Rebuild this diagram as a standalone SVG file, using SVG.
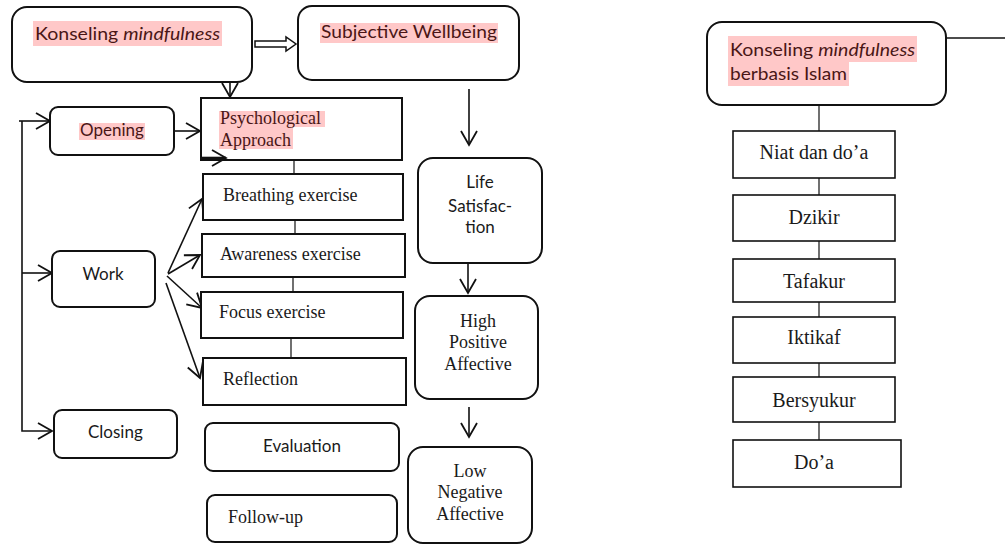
<svg xmlns="http://www.w3.org/2000/svg" width="1005" height="545" viewBox="0 0 1005 545">
<style>
.rb{fill:#fff;stroke:#111;stroke-width:2}
.sb{fill:#fff;stroke:#111;stroke-width:2}
.tb{fill:#fff;stroke:#111;stroke-width:1.6}
.hl{fill:#ffc8c8}
.sans{font-family:Lato,"Open Sans","Liberation Sans",sans-serif;font-size:17px;fill:#1a1a1a}
.ser{font-family:"Liberation Serif","Times New Roman",serif;font-size:18px;fill:#1a1a1a}
.ser2{font-family:"Liberation Serif","Times New Roman",serif;font-size:20px;fill:#1a1a1a}
.red{fill:#4a1616}
.c{stroke:#111;stroke-width:1.6;fill:none}
.t{stroke:#111;stroke-width:1.2;fill:none}
</style>
<defs>
<marker id="ah" markerWidth="17" markerHeight="19" refX="15" refY="9.5" orient="auto" markerUnits="userSpaceOnUse">
<path d="M1,1.5 L15,9.5 L1,17.5" fill="none" stroke="#111" stroke-width="1.8"/>
</marker>
</defs>
<rect width="1005" height="545" fill="#fff"/>

<g id="connectors">
<path class="c" d="M230,82 V97" marker-end="url(#ah)"/>
<polygon points="255,41 286,41 286,37 296,44 286,51 286,47 255,47" fill="#fff" stroke="#111" stroke-width="1.5"/>
<path class="c" d="M174,131 H200" marker-end="url(#ah)"/>
<path class="c" d="M19,121 H50" marker-end="url(#ah)"/>
<path class="c" d="M22,121 V431 H52" marker-end="url(#ah)"/>
<path class="c" d="M22,273 H52" marker-end="url(#ah)"/>
<path class="c" d="M168,273 L202,199" marker-end="url(#ah)"/>
<path class="c" d="M168,274 L200,255" marker-end="url(#ah)"/>
<path class="c" d="M167,276 L202,308" marker-end="url(#ah)"/>
<path class="c" d="M166,283 L200,378" marker-end="url(#ah)"/>
<path class="t" d="M294,160 V174"/>
<path class="t" d="M295,220 V234"/>
<path class="t" d="M293,277 V292"/>
<path class="t" d="M291,338 V358"/>
<path class="c" d="M469,89 V145" marker-end="url(#ah)"/>
<path class="c" d="M468,263 V293" marker-end="url(#ah)"/>
<path class="c" d="M469,407 V437" marker-end="url(#ah)"/>
<path class="c" d="M946,38 H1005"/>
<path class="t" d="M819,105 V440"/>
</g>

<g id="konseling">
<rect class="rb" x="12" y="7" width="240" height="75" rx="15"/>
<rect class="hl" x="33" y="21" width="189" height="25"/>
<text class="sans red" x="35" y="40" font-size="19" textLength="185" lengthAdjust="spacingAndGlyphs">Konseling <tspan font-style="italic">mindfulness</tspan></text>
</g>

<g id="subjective">
<rect class="rb" x="298" y="6" width="221" height="74" rx="14"/>
<rect class="hl" x="320" y="23" width="178" height="20"/>
<text class="sans red" x="321" y="38" font-size="18" textLength="176" lengthAdjust="spacingAndGlyphs">Subjective Wellbeing</text>
</g>

<g id="psych">
<rect class="sb" x="201" y="98" width="201" height="62"/>
<rect class="hl" x="219" y="111" width="106" height="16"/>
<rect class="hl" x="219" y="127" width="74" height="22"/>
<text class="ser red" x="220" y="124" font-size="18.5">Psychological</text>
<text class="ser red" x="220" y="146" font-size="18.5">Approach</text>
<path d="M201,158 H226" stroke="#111" stroke-width="2.6" fill="none" marker-end="url(#ah)"/>
</g>

<g id="opening">
<rect class="rb" x="50" y="107" width="124" height="48" rx="8"/>
<rect class="hl" x="79" y="123" width="66" height="17"/>
<text class="sans red" x="112" y="136" text-anchor="middle" font-size="16">Opening</text>
</g>

<g id="work">
<rect class="rb" x="52" y="251" width="103" height="56" rx="8"/>
<text class="sans" x="103" y="280" text-anchor="middle" font-size="16">Work</text>
</g>

<g id="closing">
<rect class="rb" x="54" y="410" width="123" height="48" rx="8"/>
<text class="sans" x="88" y="438" font-size="16">Closing</text>
</g>

<g id="breathing">
<rect class="sb" x="203" y="174" width="200" height="46"/>
<text class="ser" x="223" y="201">Breathing exercise</text>
</g>
<g id="awareness">
<rect class="sb" x="202" y="234" width="203" height="43"/>
<text class="ser" x="220" y="260">Awareness exercise</text>
</g>
<g id="focus">
<rect class="sb" x="201" y="292" width="202" height="46"/>
<text class="ser" x="219" y="318">Focus exercise</text>
</g>
<g id="reflection">
<rect class="sb" x="203" y="358" width="203" height="47"/>
<text class="ser" x="223" y="385">Reflection</text>
</g>
<g id="evaluation">
<rect class="rb" x="205" y="423" width="194" height="48" rx="8"/>
<text class="sans" x="302" y="452" text-anchor="middle" font-size="16">Evaluation</text>
</g>
<g id="followup">
<rect class="rb" x="207" y="495" width="190" height="47" rx="8"/>
<text class="ser" x="228" y="523">Follow-up</text>
</g>

<g id="life">
<rect class="rb" x="418" y="158" width="124" height="105" rx="15"/>
<text class="sans" x="480" y="188" text-anchor="middle" font-size="15">Life</text>
<text class="sans" x="480" y="212" text-anchor="middle" font-size="15">Satisfac-</text>
<text class="sans" x="480" y="233" text-anchor="middle" font-size="15">tion</text>
</g>
<g id="high">
<rect class="rb" x="415" y="296" width="123" height="103" rx="15"/>
<text class="ser" x="478" y="327" text-anchor="middle">High</text>
<text class="ser" x="478" y="348" text-anchor="middle">Positive</text>
<text class="ser" x="478" y="370" text-anchor="middle">Affective</text>
</g>
<g id="low">
<rect class="rb" x="408" y="447" width="124" height="96" rx="15"/>
<text class="ser" x="470" y="477" text-anchor="middle">Low</text>
<text class="ser" x="470" y="498" text-anchor="middle">Negative</text>
<text class="ser" x="470" y="520" text-anchor="middle">Affective</text>
</g>

<g id="islam">
<rect class="rb" x="707" y="22" width="239" height="83" rx="15"/>
<rect class="hl" x="728" y="36" width="189" height="26"/>
<rect class="hl" x="728" y="62" width="121" height="24"/>
<text class="sans red" x="730" y="56" font-size="19.5" textLength="185" lengthAdjust="spacingAndGlyphs">Konseling <tspan font-style="italic">mindfulness</tspan></text>
<text class="sans red" x="730" y="80" font-size="19.5" textLength="117" lengthAdjust="spacingAndGlyphs">berbasis Islam</text>
</g>

<g id="niat">
<rect class="tb" x="733" y="131" width="162" height="47"/>
<text class="ser2" x="814" y="159" text-anchor="middle">Niat dan do’a</text>
</g>
<g id="dzikir">
<rect class="tb" x="733" y="195" width="162" height="46"/>
<text class="ser2" x="814" y="224" text-anchor="middle">Dzikir</text>
</g>
<g id="tafakur">
<rect class="tb" x="733" y="259" width="162" height="43"/>
<text class="ser2" x="814" y="288" text-anchor="middle">Tafakur</text>
</g>
<g id="iktikaf">
<rect class="tb" x="733" y="317" width="162" height="46"/>
<text class="ser2" x="814" y="344" text-anchor="middle">Iktikaf</text>
</g>
<g id="bersyukur">
<rect class="tb" x="733" y="377" width="162" height="45"/>
<text class="ser2" x="814" y="407" text-anchor="middle">Bersyukur</text>
</g>
<g id="doa">
<rect class="tb" x="733" y="440" width="168" height="47"/>
<text class="ser2" x="814" y="469" text-anchor="middle">Do’a</text>
</g>
</svg>
